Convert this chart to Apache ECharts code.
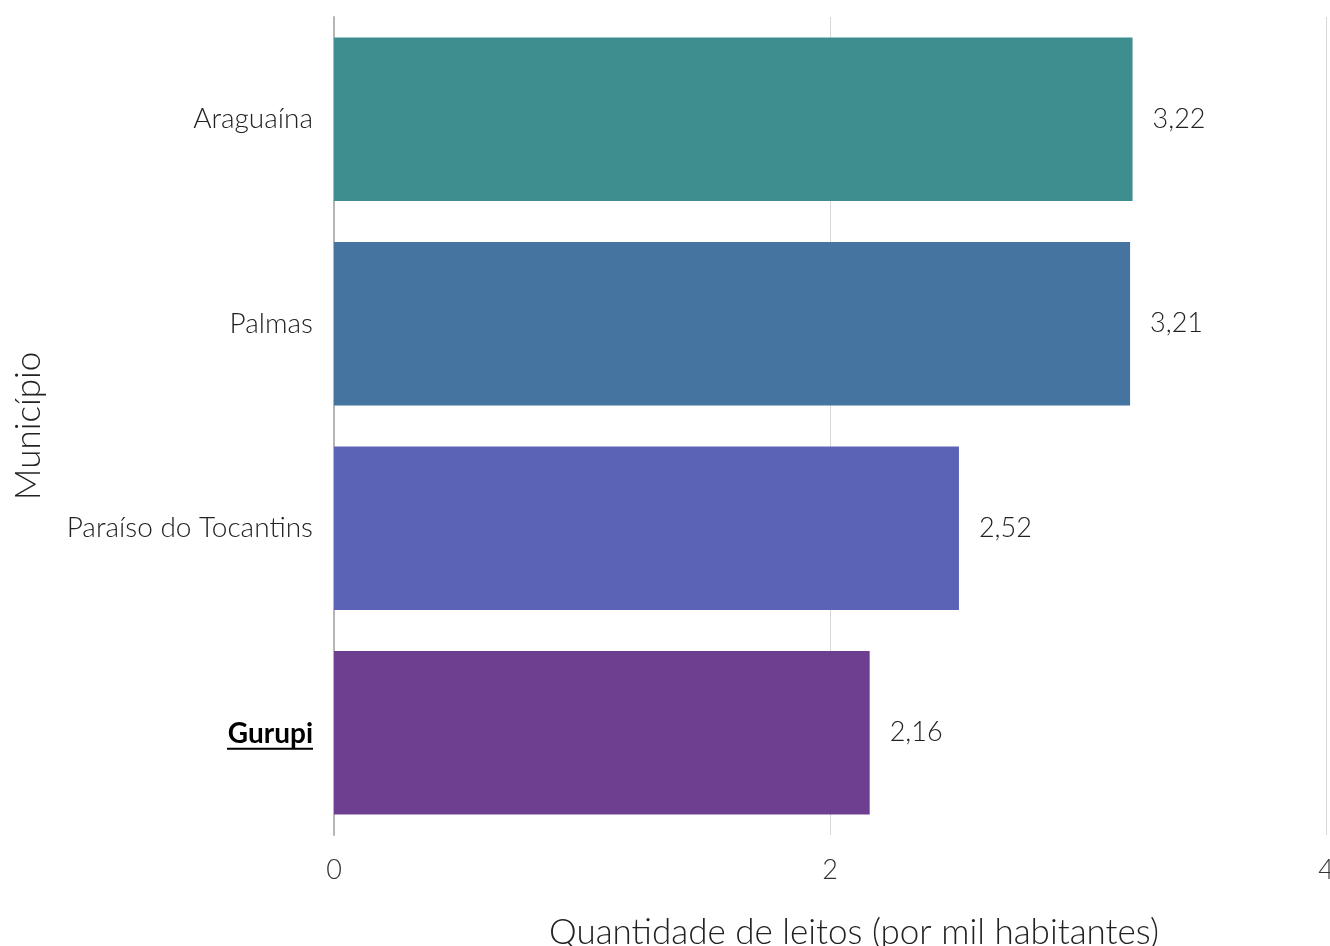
<!DOCTYPE html>
<html>
<head>
<meta charset="utf-8">
<script src="https://cdn.jsdelivr.net/npm/echarts@6/dist/echarts.min.js"></script>
<style>
html,body{margin:0;padding:0;background:#fff;overflow:hidden;}
#chart{width:1330px;height:946px;}
</style>
</head>
<body>
<div id="chart"></div>
<script>
const categories = ['Araguaína', 'Palmas', 'Paraíso do Tocantins', 'Gurupi'];
const values = [3.22, 3.21, 2.52, 2.16];
const barColors = ['#3f8e8f', '#44749f', '#5b63b7', '#6e3e91'];
const highlight = 'Gurupi';
const xTicks = [0, 2, 4];

const chart = echarts.init(document.getElementById('chart'));
const FONT = 'Lato';
chart.setOption({
  backgroundColor: '#fff',
  animation: false,
  grid: { left: 334, right: 4, top: 17, bottom: 111, containLabel: false, outerBoundsMode: 'none' },
  xAxis: {
    type: 'value', min: xTicks[0], max: xTicks[xTicks.length - 1], interval: 2,
    name: 'Quantidade de leitos (por mil habitantes)',
    nameLocation: 'middle', nameGap: 80,
    nameTextStyle: { fontFamily: FONT, fontWeight: 300, fontSize: 35, color: '#222', padding: [0, 0, 0, 48] },
    axisLine: { show: false }, axisTick: { show: false },
    splitLine: { show: true, lineStyle: { color: '#d6d6d6', width: 1 } },
    axisLabel: { fontFamily: FONT, fontWeight: 300, fontSize: 27, color: '#333', margin: 22 }
  },
  yAxis: {
    type: 'category', data: categories, inverse: true,
    name: 'Município', nameLocation: 'middle', nameGap: 288,
    nameTextStyle: { fontFamily: FONT, fontWeight: 300, fontSize: 35, color: '#222' },
    axisLine: { show: true, lineStyle: { color: '#b5b5b5', width: 2 } },
    axisTick: { show: false },
    axisLabel: {
      margin: 21, fontFamily: FONT, fontWeight: 300, fontSize: 28, color: '#222',
      formatter: v => v === highlight ? '{b|' + v + '}\n{u|}' : v,
      rich: {
        b: { fontFamily: FONT, fontWeight: 'bold', fontSize: 28, color: '#000', lineHeight: 32, padding: [7, 0, 0, 0] },
        u: { width: 86, height: 2, backgroundColor: '#000', lineHeight: 4 }
      }
    }
  },
  series: [{
    type: 'bar', barWidth: '80%',
    data: values.map((v, i) => ({ value: v, itemStyle: { color: barColors[i] } })),
    label: {
      show: true, position: 'right', distance: 20,
      fontFamily: FONT, fontWeight: 300, fontSize: 27, color: '#222',
      formatter: p => p.value.toFixed(2).replace('.', ',')
    }
  }]
});
</script>
</body>
</html>
